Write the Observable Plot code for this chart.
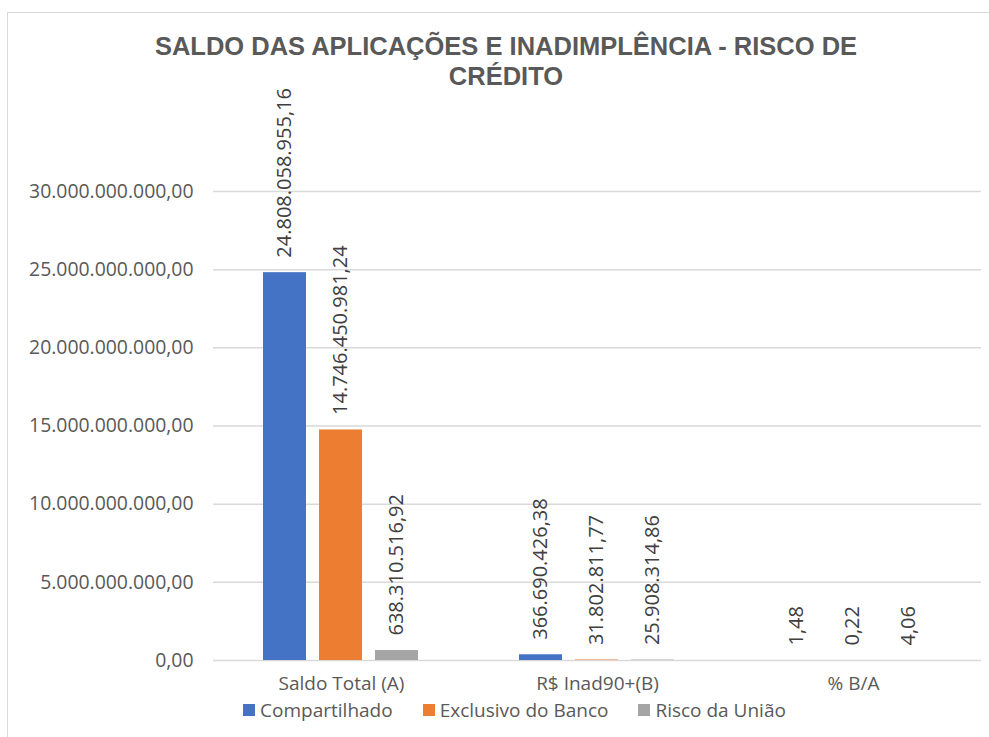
<!DOCTYPE html>
<html>
<head>
<meta charset="utf-8">
<script src="https://cdn.jsdelivr.net/npm/d3@7"></script>
<script src="https://cdn.jsdelivr.net/npm/@observablehq/plot@0.6"></script>
<style>
  body { margin: 0; background: #fff; }
  #wrap { position: relative; width: 989px; height: 737px; overflow: hidden; font-family: "Open Sans", sans-serif; }
  #frame { position: absolute; left: 7px; top: 12px; width: 1200px; height: 900px; border-left: 1px solid #d9d9d9; border-top: 1px solid #d9d9d9; }
  #title { position: absolute; left: 7px; width: 998px; top: 31px; text-align: center; font-family: "Liberation Sans", Arial, sans-serif; font-weight: bold; font-size: 25.5px; line-height: 30px; color: #595959; }
  #chart { position: absolute; left: 0; top: 100px; }
  #legend { position: absolute; top: 698px; left: 0; width: 989px; display: flex; justify-content: center; padding-left: 40px; box-sizing: border-box; font-size: 19px; color: #595959; line-height: 24px; }
  #legend .item { display: flex; align-items: center; margin: 0 15px; }
  #legend .sw { width: 12px; height: 12px; margin-right: 5px; }
</style>
</head>
<body>
<div id="wrap">
  <div id="frame"></div>
  <div id="title">SALDO DAS APLICAÇÕES E INADIMPLÊNCIA - RISCO DE<br>CRÉDITO</div>
  <div id="chart"></div>
  <div id="legend"></div>
</div>
<script>
const categories = ["Saldo Total (A)", "R$ Inad90+(B)", "% B/A"];
const seriesNames = ["Compartilhado", "Exclusivo do Banco", "Risco da União"];
const seriesColors = ["#4472C4", "#ED7D31", "#A5A5A5"];
const compartilhado = [24808058955.16, 366690426.38, 1.48];
const exclusivo = [14746450981.24, 31802811.77, 0.22];
const riscoUniao = [638310516.92, 25908314.86, 4.06];
const yTicks = [0, 5e9, 10e9, 15e9, 20e9, 25e9, 30e9];

const br = d3.formatLocale({decimal: ",", thousands: ".", grouping: [3], currency: ["R$", ""]});
const fmt = br.format(",.2f");

const seriesValues = [compartilhado, exclusivo, riscoUniao];
const data = [];
categories.forEach((c, i) => {
  seriesNames.forEach((s, j) => {
    data.push({category: c, series: s, value: seriesValues[j][i]});
  });
});

const plot = Plot.plot({
  width: 989,
  height: 600,
  marginLeft: 212,
  marginRight: 8,
  marginTop: 91,
  marginBottom: 40,
  style: {fontFamily: "Open Sans, sans-serif", fontSize: "19px", color: "#595959", background: "transparent", overflow: "visible"},
  fx: {domain: categories, padding: 0, label: null},
  x: {domain: seriesNames, paddingInner: 0.228, paddingOuter: 0.86, axis: null},
  y: {domain: [0, 30e9], ticks: yTicks, label: null},
  color: {domain: seriesNames, range: seriesColors},
  marks: [
    Plot.gridY(yTicks, {stroke: "#d9d9d9", strokeOpacity: 1, strokeWidth: 1.5}),
    Plot.axisY(yTicks, {tickSize: 0, tickPadding: 20, tickFormat: fmt, fontSize: 19.4, fill: "#595959", label: null}),
    Plot.axisFx({anchor: "bottom", tickSize: 0, tickPadding: 16, fontSize: 19, fill: "#595959", label: null}),
    Plot.barY(data, {fx: "category", x: "series", y: "value", fill: "series"}),
    Plot.text(data, {fx: "category", x: "series", y: "value", text: d => fmt(d.value), rotate: -90, textAnchor: "start", lineAnchor: "middle", dy: -15, fontSize: 20, fill: "#404040"})
  ]
});
document.getElementById("chart").appendChild(plot);

const legend = document.getElementById("legend");
seriesNames.forEach((s, j) => {
  const it = document.createElement("div");
  it.className = "item";
  const sw = document.createElement("span");
  sw.className = "sw";
  sw.style.background = seriesColors[j];
  const t = document.createElement("span");
  t.textContent = s;
  it.appendChild(sw);
  it.appendChild(t);
  legend.appendChild(it);
});
</script>
</body>
</html>
